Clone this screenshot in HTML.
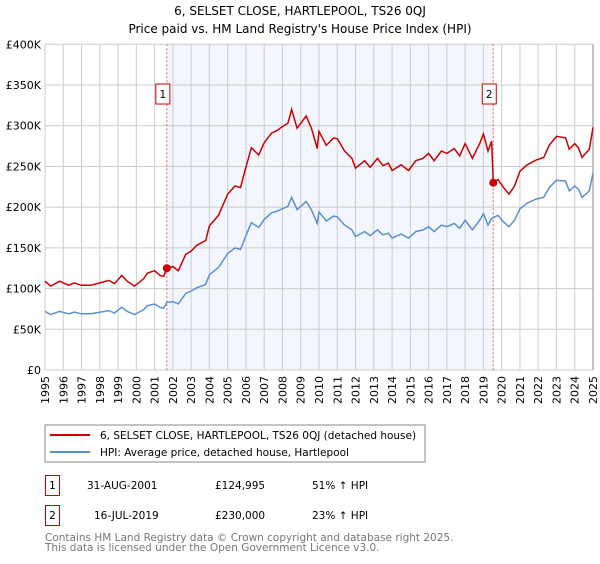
<!DOCTYPE html>
<html><head><meta charset="utf-8"><style>
body{margin:0;background:#fff;font-family:"DejaVu Sans","Liberation Sans",sans-serif;}
svg text{font-family:"DejaVu Sans","Liberation Sans",sans-serif;}
</style></head><body>
<svg id="c" width="600" height="560" viewBox="0 0 600 560" xmlns="http://www.w3.org/2000/svg">
<text x="300" y="15" text-anchor="middle" font-size="12">6, SELSET CLOSE, HARTLEPOOL, TS26 0QJ</text>
<text x="300" y="33" text-anchor="middle" font-size="12">Price paid vs. HM Land Registry's House Price Index (HPI)</text>
<g id="plot"></g>
<g>
<rect x="45" y="425" width="380" height="37" fill="#fff" stroke="#888"/>
<line x1="50" y1="435" x2="90" y2="435" stroke="#cc0000" stroke-width="2"/>
<text x="100" y="439" font-size="10.5">6, SELSET CLOSE, HARTLEPOOL, TS26 0QJ (detached house)</text>
<line x1="50" y1="452" x2="90" y2="452" stroke="#5b8fd4" stroke-width="2"/>
<text x="100" y="456" font-size="10.5">HPI: Average price, detached house, Hartlepool</text>
</g>
<g>
<rect x="45.5" y="475.5" width="14" height="20" fill="#fff" stroke="#cc0000"/>
<text x="52.5" y="489" text-anchor="middle" font-size="10.5">1</text>
<text x="87" y="489" font-size="10.5">31-AUG-2001</text>
<text x="215" y="489" font-size="10.5">£124,995</text>
<text x="312" y="489" font-size="10.5">51% ↑ HPI</text>
<rect x="45.5" y="505.5" width="14" height="20" fill="#fff" stroke="#cc0000"/>
<text x="52.5" y="519" text-anchor="middle" font-size="10.5">2</text>
<text x="94" y="519" font-size="10.5">16-JUL-2019</text>
<text x="215" y="519" font-size="10.5">£230,000</text>
<text x="312" y="519" font-size="10.5">23% ↑ HPI</text>
</g>
<text x="45" y="541" font-size="10.5" fill="#777">Contains HM Land Registry data © Crown copyright and database right 2025.</text>
<text x="45" y="551" font-size="10.5" fill="#777">This data is licensed under the Open Government Licence v3.0.</text>
</svg>
<script>
const years=[1995.0,1995.3,1995.8,1996.3,1996.6,1997.0,1997.5,1998.0,1998.5,1998.8,1999.2,1999.5,1999.9,2000.4,2000.6,2001.0,2001.3,2001.5,2001.67,2002.0,2002.3,2002.7,2003.0,2003.3,2003.8,2004.0,2004.5,2005.0,2005.4,2005.7,2006.0,2006.3,2006.7,2007.0,2007.4,2007.7,2008.0,2008.3,2008.5,2008.8,2009.3,2009.6,2009.9,2010.0,2010.4,2010.8,2011.0,2011.4,2011.8,2012.0,2012.5,2012.8,2013.2,2013.5,2013.8,2014.0,2014.5,2014.9,2015.3,2015.7,2016.0,2016.3,2016.7,2017.0,2017.4,2017.7,2018.0,2018.4,2018.8,2019.0,2019.25,2019.45,2019.54,2019.8,2020.1,2020.4,2020.7,2021.0,2021.4,2021.9,2022.3,2022.6,2023.0,2023.5,2023.7,2024.0,2024.2,2024.4,2024.8,2025.0];
const hpi=[72,68,72,69,71,69,69,71,73,70,77,72,68,74,79,81,77,76,83,84,81,94,97,101,105,117,126,143,150,148,165,181,175,185,193,195,198,201,212,197,207,196,180,194,183,189,188,178,172,164,170,165,172,166,168,162,167,162,170,172,176,170,178,176,180,174,184,172,184,192,178,186,187,190,182,176,184,198,205,210,212,224,233,232,220,226,222,212,220,242];
const prop=[109,103,109,104,107,104,104,107,110,106,116,109,103,112,119,122,116,115,125,127,122,142,146,153,159,177,190,216,226,224,249,273,264,279,291,294,299,303,320,297,312,296,272,293,276,285,284,269,260,248,257,249,260,251,254,245,252,245,257,260,266,257,269,266,272,263,278,260,278,290,269,281,230,234,224,216,226,244,252,258,261,276,287,285,271,278,273,261,271,298];
const saleYears=[2001.67,2019.54];
const salePrices=[125,230];
const saleLabels=["1","2"];
const yTicks=[0,50,100,150,200,250,300,350,400];
const yTickLabels=["£0","£50K","£100K","£150K","£200K","£250K","£300K","£350K","£400K"];
const xTicks=[1995,1996,1997,1998,1999,2000,2001,2002,2003,2004,2005,2006,2007,2008,2009,2010,2011,2012,2013,2014,2015,2016,2017,2018,2019,2020,2021,2022,2023,2024,2025];

const L=45,R=593,T=44.3,B=370;
const X=y=>L+(y-1995)/30*(R-L);
const Y=v=>B-v/400*(B-T);
const NS="http://www.w3.org/2000/svg";
const g=document.getElementById('plot');
function mk(t,a,p){const e=document.createElementNS(NS,t);for(const k in a)e.setAttribute(k,a[k]);(p||g).appendChild(e);return e;}
const shade=mk('rect',{x:X(saleYears[0]),y:T,width:X(saleYears[1])-X(saleYears[0]),height:B-T,fill:'#f3f6fd'});


xTicks.forEach(t=>{const l=mk('line',{x1:X(t),x2:X(t),y1:T,y2:B,stroke:'#cccccc','stroke-width':1});


const tx=mk('text',{x:0,y:0,'font-size':11,'text-anchor':'end',transform:`translate(${X(t)+4},${B+6}) rotate(-90)`});tx.textContent=t;

});
yTicks.forEach((t,i)=>{const l=mk('line',{x1:L,x2:R,y1:Y(t),y2:Y(t),stroke:'#cccccc','stroke-width':1});


const tx=mk('text',{x:L-4,y:Y(t)+4,'font-size':11,'text-anchor':'end'});tx.textContent=yTickLabels[i];

});
mk('line',{x1:R,x2:R,y1:T,y2:B,stroke:'#888','stroke-width':1});
saleYears.forEach((s,i)=>{const l=mk('line',{x1:X(s),x2:X(s),y1:T,y2:B,stroke:'#e06060','stroke-width':1,'stroke-dasharray':'2,2'});


const bx=X(s)-4;mk('rect',{x:bx-7,y:84,width:14,height:20,fill:'#fff',stroke:'#cc0000'});
const tx=mk('text',{x:bx,y:98,'font-size':10.5,'text-anchor':'middle'});tx.textContent=saleLabels[i];

});
const pts=a=>years.map((y,i)=>X(y).toFixed(1)+','+Y(a[i]).toFixed(1)).join(' ');
const hl=mk('polyline',{points:pts(hpi),fill:'none',stroke:'#5b8fd4','stroke-width':1.5});


const pl=mk('polyline',{points:pts(prop),fill:'none',stroke:'#cc0000','stroke-width':1.5});


saleYears.forEach((s,i)=>{const c=mk('circle',{cx:X(s),cy:Y(salePrices[i]),r:4,fill:'#cc0000'});

});
</script>
</body></html>
